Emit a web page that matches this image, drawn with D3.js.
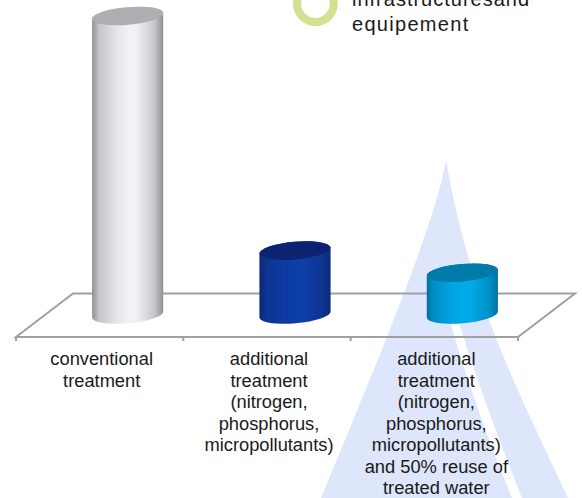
<!DOCTYPE html>
<html>
<head>
<meta charset="utf-8">
<script src="https://d3js.org/d3.v7.min.js"></script>
<style>
  html, body { margin: 0; padding: 0; background: #fff; }
  text { font-family: "Liberation Sans", Arial, sans-serif; fill: #1a1a1a; }
</style>
</head>
<body>
<svg id="chart"></svg>
<script>
const width = 582;
const height = 498;

// Chart values (the original has no value axis)
const categories = ["conventional", "additional-1", "additional-2"];
const values = [100, 21.4, 14];
const labelLines = [
  ["conventional", "treatment"],
  ["additional", "treatment", "(nitrogen,", "phosphorus,", "micropollutants)"],
  ["additional", "treatment", "(nitrogen,", "phosphorus,", "micropollutants)", "and 50% reuse of", "treated water"]
];
const legendLines = ["infrastructuresand", "equipement"];
const legendSpacing = [1.0, 1.3];

// Bar colours: edge, middle, top cap
const edgeColors = ["#8f8f94", "#0a2878", "#066f9f"];
const midColors = ["#f1f2f7", "#0a3da8", "#00aae8"];
const capColors = ["#adadb2", "#07246f", "#027aa9"];

// Shading across a cylinder: offset and how far from edge colour to middle colour
const shadeOffsets = [0, 0.1, 0.35, 0.52, 0.62, 0.88, 1];
const shadeMix = [0, 0.55, 0.88, 1, 1, 0.55, 0];

const svg = d3.select("#chart")
  .attr("width", width)
  .attr("height", height)
  .style("display", "block");

const defs = svg.append("defs");

// Slight softening, the source is a scaled bitmap
defs.append("filter")
  .attr("id", "soft")
  .append("feGaussianBlur")
  .attr("stdDeviation", 0.5);

// Horizontal gradient for each cylinder
categories.forEach(function(c, i) {
  const grad = defs.append("linearGradient")
    .attr("id", "bar" + i)
    .attr("x1", "0%").attr("x2", "100%")
    .attr("y1", "0%").attr("y2", "0%");
  const mix = d3.interpolateRgb(edgeColors[i], midColors[i]);
  shadeOffsets.forEach(function(o, j) {
    grad.append("stop").attr("offset", o).attr("stop-color", mix(shadeMix[j]));
  });
});

// Pale sail logo behind the chart
const sail = svg.append("g");
sail.append("path")
  .attr("fill", "#dde6fb")
  .attr("d", "M446,160 C437,215 395,320 321,498 L568,498 C520,395 470,300 446,160 Z");
sail.append("path")
  .attr("fill", "#fff")
  .attr("d", "M436,270 C455,345 480,420 512,498 L522,498 C495,430 465,350 444,270 Z");

// Ring and text of the cut-off legend
svg.append("circle")
  .attr("cx", 315.4)
  .attr("cy", 3.6)
  .attr("r", 18.4)
  .attr("fill", "none")
  .attr("stroke", "#d3e08f")
  .attr("stroke-width", 8);

svg.append("g").selectAll("text")
  .data(legendLines)
  .enter().append("text")
  .attr("x", 352)
  .attr("y", (d, i) => 6 + i * 25)
  .attr("font-size", 20)
  .attr("letter-spacing", (d, i) => legendSpacing[i])
  .text(d => d);

// Scales
const x = d3.scaleBand().domain(categories).range([16, 518]);
const y = d3.scaleLinear().domain([0, 100]).range([314.5, 16]);

// Offset of the floor's back edge, and of the bars on the floor
const depthX = 57;
const depthY = -43.5;
const barShift = 28;
const floorY = 337;

// Floor
const floor = svg.append("g")
  .attr("filter", "url(#soft)")
  .attr("fill", "none")
  .attr("stroke", "#a0a0a0")
  .attr("stroke-width", 2);

floor.append("path")
  .attr("d", `M16,${floorY} L${16 + depthX},${floorY + depthY} L${518 + depthX},${floorY + depthY} L518,${floorY} Z`);

const tickXs = categories.map(c => x(c)).concat(x.range()[1]);
floor.selectAll("line")
  .data(tickXs)
  .enter().append("line")
  .attr("x1", d => d)
  .attr("x2", d => d)
  .attr("y1", floorY)
  .attr("y2", floorY + 4);

// Cylinders
const rx = 35.7;
const ry = 8.8;
const tilt = -5;
const dx = rx * Math.cos(tilt * Math.PI / 180);
const dy = rx * Math.sin(tilt * Math.PI / 180);

const bar = svg.append("g")
  .attr("filter", "url(#soft)")
  .selectAll("g")
  .data(categories)
  .enter().append("g");

const cx = c => x(c) + x.bandwidth() / 2 + barShift;

bar.append("path")
  .attr("fill", (c, i) => `url(#bar${i})`)
  .attr("d", function(c, i) {
    const top = y(values[i]);
    const base = y(0);
    return `M${cx(c) - dx},${top - dy} L${cx(c) - dx},${base - dy} ` +
      `A${rx},${ry} ${tilt} 0 0 ${cx(c) + dx},${base + dy} ` +
      `L${cx(c) + dx},${top + dy} ` +
      `A${rx},${ry} ${tilt} 0 0 ${cx(c) - dx},${top - dy} Z`;
  });

bar.append("ellipse")
  .attr("rx", rx)
  .attr("ry", ry)
  .attr("fill", (c, i) => capColors[i])
  .attr("transform", (c, i) => `translate(${cx(c)},${y(values[i])}) rotate(${tilt})`);

// Category labels
svg.append("g").selectAll("g")
  .data(categories)
  .enter().append("g")
  .each(function(c, i) {
    d3.select(this).selectAll("text")
      .data(labelLines[i])
      .enter().append("text")
      .attr("x", x(c) + x.bandwidth() / 2 + 2)
      .attr("y", (d, j) => 365 + j * 21.5)
      .attr("text-anchor", "middle")
      .attr("font-size", 18.3)
      .text(d => d);
  });
</script>
</body>
</html>
